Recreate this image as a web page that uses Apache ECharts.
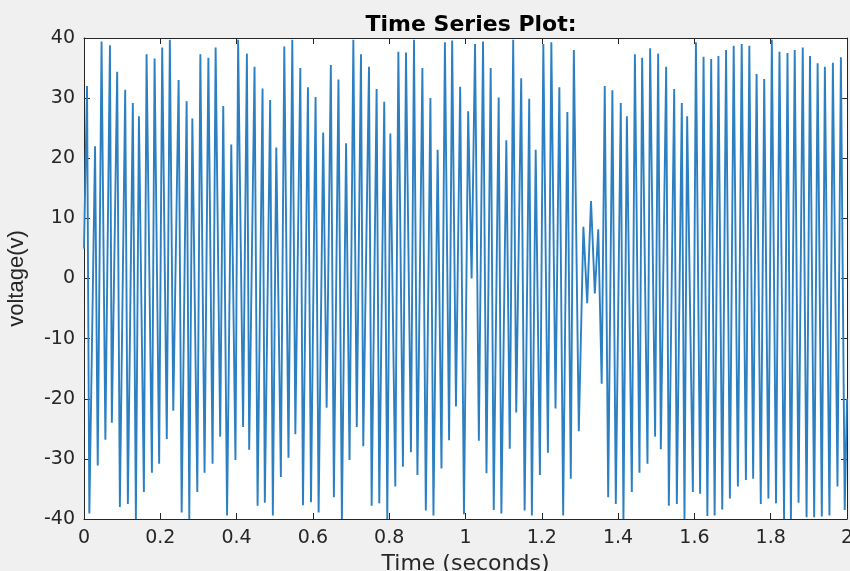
<!DOCTYPE html>
<html>
<head>
<meta charset="utf-8">
<title>Time Series Plot</title>
<script src="https://cdn.jsdelivr.net/npm/echarts@6/dist/echarts.min.js"></script>
<style>
  html, body { margin: 0; padding: 0; background: #f0f0f0; }
  #chart { width: 850px; height: 571px; }
</style>
</head>
<body>
<div id="chart"></div>
<script>
// turning points of the trace (seconds / volts)
const timeSec = [
  0, 0.008, 0.014, 0.029, 0.036, 0.046, 0.056, 0.068, 0.073, 0.087,
  0.094, 0.108, 0.115, 0.128, 0.136, 0.144, 0.157, 0.164, 0.178, 0.185,
  0.197, 0.205, 0.217, 0.225, 0.234, 0.248, 0.256, 0.269, 0.276, 0.284,
  0.297, 0.305, 0.316, 0.326, 0.337, 0.345, 0.357, 0.365, 0.375, 0.386,
  0.397, 0.404, 0.417, 0.427, 0.433, 0.447, 0.455, 0.468, 0.474, 0.488,
  0.495, 0.504, 0.516, 0.525, 0.536, 0.546, 0.554, 0.567, 0.574, 0.587,
  0.595, 0.607, 0.615, 0.627, 0.636, 0.647, 0.655, 0.667, 0.676, 0.687,
  0.696, 0.706, 0.715, 0.726, 0.732, 0.747, 0.754, 0.767, 0.774, 0.787,
  0.795, 0.803, 0.816, 0.824, 0.836, 0.844, 0.857, 0.865, 0.874, 0.887,
  0.896, 0.908, 0.916, 0.927, 0.937, 0.946, 0.957, 0.965, 0.975, 0.986,
  0.996, 1.007, 1.016, 1.025, 1.035, 1.046, 1.055, 1.066, 1.074, 1.087,
  1.094, 1.107, 1.116, 1.125, 1.133, 1.146, 1.155, 1.167, 1.174, 1.184,
  1.195, 1.204, 1.216, 1.225, 1.236, 1.246, 1.256, 1.267, 1.276, 1.284,
  1.297, 1.309, 1.319, 1.329, 1.339, 1.348, 1.357, 1.365, 1.374, 1.385,
  1.394, 1.407, 1.414, 1.423, 1.436, 1.444, 1.456, 1.463, 1.477, 1.484,
  1.497, 1.505, 1.512, 1.526, 1.533, 1.547, 1.554, 1.567, 1.574, 1.581,
  1.596, 1.604, 1.615, 1.624, 1.634, 1.644, 1.653, 1.663, 1.673, 1.683,
  1.693, 1.703, 1.714, 1.724, 1.735, 1.744, 1.754, 1.763, 1.774, 1.783,
  1.794, 1.803, 1.814, 1.823, 1.835, 1.844, 1.853, 1.863, 1.873, 1.884,
  1.894, 1.903, 1.914, 1.923, 1.934, 1.942, 1.954, 1.963, 1.975, 1.984,
  1.994, 2.0
]
const voltage = [
  5, 32, -39.1, 22, -31.1, 39.4, -26.8, 38.8, -24, 34.4,
  -38, 31.4, -37.5, 29.2, -40, 27, -35.5, 37.3, -32.3, 36.6,
  -30.8, 38.4, -26.7, 39.7, -22, 33, -38.9, 29.5, -40, 26.6,
  -35.5, 37.3, -32.3, 36.7, -30.8, 38.4, -26.3, 28.7, -39.4, 22.3,
  -30.2, 39.7, -24.7, 37.4, -28.5, 35.2, -37.8, 31.6, -37.3, 29.7,
  -39.4, 21.8, -33, 38.6, -29.8, 39.7, -25.9, 35, -37.7, 31.8,
  -37.2, 30.2, -38.9, 24.3, -21.5, 35.5, -36.4, 33.1, -40, 22.5,
  -30.2, 39.7, -24.7, 37.3, -27.9, 35.2, -37.8, 31.5, -37.4, 29.4,
  -40, 24.1, -34.6, 37.7, -31.3, 37.6, -28.9, 39.7, -32.7, 35,
  -38.6, 30, -39.4, 21.4, -31.6, 39.3, -26.9, 39.6, -21.3, 31.9,
  -39.2, 27.8, 0, 39, -27, 39.4, -32.4, 35, -38.5, 30.1,
  -39.1, 23, -28.3, 39.7, -22.3, 33.3, -38.6, 29.9, -39.4, 21.4,
  -32.7, 39, -29, 39.3, -21.6, 31.8, -39.4, 27.7, -33.3, 38,
  -25.4, 8.6, -4.1, 12.9, -2.5, 8.2, -17.5, 32, -36.4, 31.3,
  -37.5, 29.2, -40, 27, -35.5, 37.3, -32.3, 36.7, -30.8, 38.3,
  -26.3, 37.4, -28.4, 35.2, -37.8, 31.5, -37.5, 29.2, -40, 27,
  -35.5, 39.3, -35.8, 36.9, -39.5, 36.5, -39.4, 37, -38.4, 38,
  -36.6, 38.7, -34.6, 39, -33.5, 38.7, -33.3, 34, -37.5, 33.2,
  -36.6, 39.7, -37.4, 37.7, -40, 37.5, -40, 38, -37.3, 38.4,
  -39.7, 37, -39.7, 35.8, -39.6, 35.2, -39.4, 35.9, -34.6, 36.8,
  -38.5, -20
]

const axisColor = '#262626'
const tickFont = { fontFamily: 'DejaVu Sans', fontSize: 19, color: axisColor }

const chart = echarts.init(document.getElementById('chart'))

const frameAxis = {
  axisLine: { show: true, onZero: false, lineStyle: { color: axisColor, width: 1 } },
  axisTick: { show: true, inside: true, length: 6, lineStyle: { color: axisColor } },
  splitLine: { show: false }
}

chart.setOption({
  animation: false,
  backgroundColor: '#f0f0f0',
  title: {
    text: 'Time Series Plot:',
    left: 466,
    top: 9,
    textAlign: 'center',
    textStyle: { fontFamily: 'DejaVu Sans', fontWeight: 'bold', fontSize: 22, color: '#000' }
  },
  grid: {
    left: 84,
    right: 3,
    top: 38,
    bottom: 52,
    show: true,
    backgroundColor: '#ffffff',
    borderWidth: 0,
    outerBoundsMode: 'none'
  },
  xAxis: [
    {
      type: 'value',
      min: 0,
      max: 2,
      interval: 0.2,
      name: 'Time (seconds)',
      nameLocation: 'middle',
      nameGap: 32,
      nameTextStyle: { fontFamily: 'DejaVu Sans', fontSize: 22, color: axisColor },
      axisLabel: Object.assign({ margin: 10 }, tickFont),
      ...frameAxis
    },
    {
      type: 'value',
      position: 'top',
      min: 0,
      max: 2,
      interval: 0.2,
      axisLabel: { show: false },
      ...frameAxis
    }
  ],
  yAxis: [
    {
      type: 'value',
      min: -40,
      max: 40,
      interval: 10,
      name: 'voltage(v)',
      nameLocation: 'middle',
      nameGap: 56,
      nameTextStyle: { fontFamily: 'Liberation Sans', fontSize: 22, color: axisColor },
      axisLabel: Object.assign({ margin: 9 }, tickFont),
      ...frameAxis
    },
    {
      type: 'value',
      position: 'right',
      min: -40,
      max: 40,
      interval: 10,
      axisLabel: { show: false },
      ...frameAxis
    }
  ],
  series: [
    {
      type: 'line',
      xAxisIndex: 0,
      yAxisIndex: 0,
      data: timeSec.map((t, i) => [t, voltage[i]]),
      showSymbol: false,
      symbol: 'none',
      lineStyle: { color: '#2c80c2', width: 1.9 },
      clip: true
    }
  ]
})
</script>
</body>
</html>
